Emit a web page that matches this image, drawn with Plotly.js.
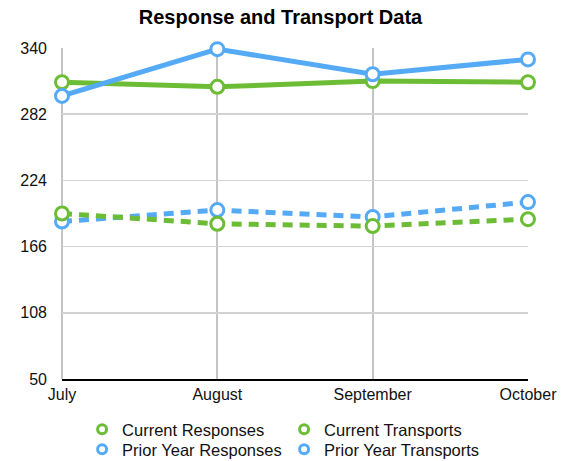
<!DOCTYPE html>
<html><head><meta charset="utf-8">
<script src="https://cdn.plot.ly/plotly-3.0.1.min.js"></script>
<style>html,body{margin:0;padding:0;background:#fff}#c{width:561px;height:461px}</style>
</head><body><div id="c"></div>
<script>
const months = ["July", "August", "September", "October"];
const currentResponses = [310, 306, 311, 310];
const priorResponses = [298, 339, 317, 330];
const currentTransports = [195, 186, 184, 190];
const priorTransports = [188, 198, 192, 205];
const yTicks = [50, 108, 166, 224, 282, 340];

const green = "#6cbd35";
const blue = "#55aaf6";

function series(name, y, color, dash) {
  return {
    x: months, y: y, name: name, type: "scatter", mode: "lines+markers",
    showlegend: false, cliponaxis: false,
    line: {color: color, width: 5, dash: dash},
    marker: {symbol: "circle", size: 13, color: "#fff", line: {color: color, width: 3}}
  };
}
function legendItem(name, color, leg) {
  return {
    x: [null], y: [null], name: name, type: "scatter", mode: "markers", legend: leg,
    marker: {symbol: "circle", size: 9, color: "#fff", line: {color: color, width: 3}}
  };
}
const data = [
  series("Prior Year Transports", priorTransports, blue, "10px,7px"),
  series("Current Transports", currentTransports, green, "10px,7px"),
  series("Current Responses", currentResponses, green, "solid"),
  series("Prior Year Responses", priorResponses, blue, "solid"),
  legendItem("Current Responses", green, "legend"),
  legendItem("Current Transports", green, "legend"),
  legendItem("Prior Year Responses", blue, "legend2"),
  legendItem("Prior Year Transports", blue, "legend2")
];
const legCommon = {
  orientation: "h", xref: "paper", x: 0.4766, xanchor: "center", yref: "container", yanchor: "top",
  entrywidth: 157, font: {size: 16.5, color: "#111"}, itemwidth: 30,
  tracegroupgap: 0, bgcolor: "rgba(0,0,0,0)"
};
const layout = {
  width: 561, height: 461,
  margin: {l: 62, r: 33, t: 48, b: 82},
  paper_bgcolor: "#fff", plot_bgcolor: "#fff",
  font: {family: "Liberation Sans, Arial, sans-serif", size: 16, color: "#111"},
  title: {text: "<b>Response and Transport Data</b>", x: 0.5, xanchor: "center", y: 0.963, yanchor: "middle",
          font: {size: 20, color: "#000"}},
  xaxis: {
    type: "category", range: [0, 3], showgrid: true, gridcolor: "#c4c4c4", gridwidth: 2,
    showline: true, linecolor: "#000", linewidth: 2, zeroline: false,
    ticks: "", tickfont: {size: 16, color: "#111"}, fixedrange: true
  },
  yaxis: {
    range: [50, 340], tickvals: yTicks, ticktext: yTicks.map(String),
    showgrid: true, gridcolor: "#d2d2d2", gridwidth: 1.5,
    showline: false, zeroline: false, ticks: "", ticklen: 0, ticklabelstandoff: 14,
    tickfont: {size: 16, color: "#111"}, fixedrange: true
  },
  shapes: [
    {type: "line", xref: "paper", yref: "paper", x0: 0, x1: 0, y0: 0, y1: 1, line: {color: "#c4c4c4", width: 2}, layer: "below"}
  ],
  legend: Object.assign({}, legCommon, {y: 0.1063}),
  legend2: Object.assign({}, legCommon, {y: 0.0629})
};
Plotly.newPlot("c", data, layout, {displayModeBar: false, staticPlot: true});
</script></body></html>
